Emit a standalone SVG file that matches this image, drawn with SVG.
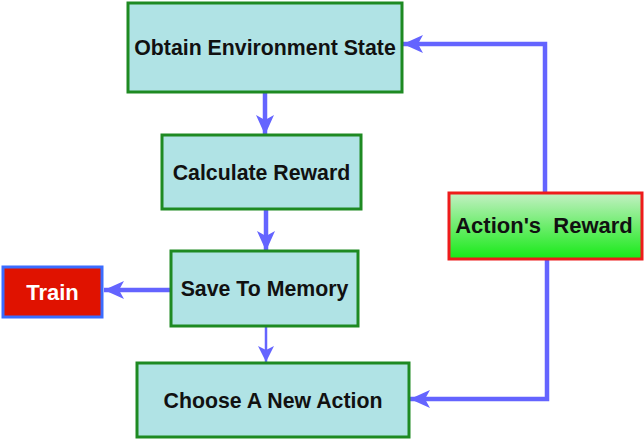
<svg xmlns="http://www.w3.org/2000/svg" width="644" height="441" viewBox="0 0 644 441">
<style>
.box{fill:#b0e3e5;stroke:#1e8a22;stroke-width:3}
.lbl{font-family:"Liberation Sans",Arial,sans-serif;font-weight:bold;font-size:21.3px;fill:#111;text-anchor:middle}
.big{font-size:22px}
.wire{fill:none;stroke:#6464ff;stroke-width:4.5}
.thin{fill:none;stroke:#6464ff;stroke-width:2.5}
</style>
<defs>
<linearGradient id="g" x1="0" y1="0" x2="0" y2="1">
<stop offset="0" stop-color="#c4f0c4"/>
<stop offset="1" stop-color="#16ea16"/>
</linearGradient>
<marker id="ah" viewBox="0 0 20 18" refX="20" refY="9" markerWidth="20" markerHeight="18" markerUnits="userSpaceOnUse" orient="auto">
<path d="M0,0 L20,9 L0,18 L5,9 Z" fill="#6464ff"/>
</marker>
<marker id="ahs" viewBox="0 0 16 16" refX="16" refY="8" markerWidth="16" markerHeight="16" markerUnits="userSpaceOnUse" orient="auto">
<path d="M0,0 L16,8 L0,16 L4,8 Z" fill="#6464ff"/>
</marker>
</defs>
<g id="connectors">
<line class="wire" x1="265" y1="93" x2="265" y2="135" marker-end="url(#ah)"/>
<line class="wire" x1="266" y1="210" x2="266" y2="251" marker-end="url(#ah)"/>
<line class="thin" x1="266" y1="327" x2="266" y2="362" marker-end="url(#ahs)"/>
<line class="wire" x1="170" y1="290" x2="104" y2="290" marker-end="url(#ah)"/>
<polyline class="wire" points="545,192 545,44 403,44" marker-end="url(#ah)"/>
<polyline class="wire" points="547,260 547,399 410,399" marker-end="url(#ah)"/>
</g>
<g id="obtain">
<rect class="box" x="128" y="3" width="274" height="89"/>
<text class="lbl" x="265" y="55">Obtain Environment State</text>
</g>
<g id="calculate">
<rect class="box" x="162" y="135" width="199" height="74"/>
<text class="lbl" x="261.5" y="180">Calculate Reward</text>
</g>
<g id="save">
<rect class="box" x="171" y="251" width="187" height="75"/>
<text class="lbl" x="264.5" y="296">Save To Memory</text>
</g>
<g id="choose">
<rect class="box" x="137" y="363" width="272" height="74"/>
<text class="lbl" x="273" y="408">Choose A New Action</text>
</g>
<g id="train">
<rect x="3" y="267" width="99" height="50" fill="#e01200" stroke="#3a6cff" stroke-width="3"/>
<text class="lbl big" x="52.5" y="300" style="fill:#ffffff">Train</text>
</g>
<g id="reward">
<rect x="449" y="193" width="193" height="66" fill="url(#g)" stroke="#ee1b1b" stroke-width="3"/>
<text class="lbl big" x="544" y="233" xml:space="preserve">Action's  Reward</text>
</g>
</svg>
